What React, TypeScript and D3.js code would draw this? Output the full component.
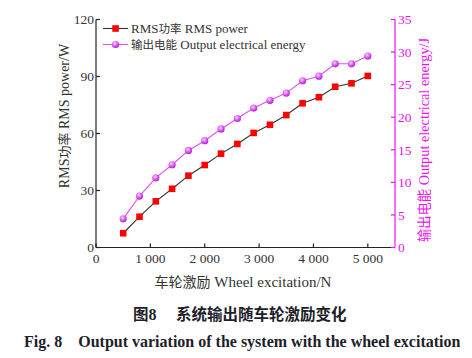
import React from 'react';
import * as d3 from 'd3';

// wheel excitation (N)
const excitation = [500, 800, 1100, 1400, 1700, 2000, 2300, 2600, 2900, 3200, 3500, 3800, 4100, 4400, 4700, 5000];
// RMS power (W), left axis
const power = [7.5, 16.2, 24.3, 30.9, 37.8, 43.4, 49.4, 54.5, 60.3, 64.6, 69.7, 75.9, 79.1, 84.6, 86.4, 90.3];
// output electrical energy (J), right axis
const energy = [4.4, 7.9, 10.7, 12.7, 14.9, 16.4, 18.2, 19.8, 21.4, 22.6, 23.7, 25.6, 26.3, 28.2, 28.2, 29.4];

const xTicks = [0, 1000, 2000, 3000, 4000, 5000];
const leftTicks = [0, 30, 60, 90, 120];
const rightTicks = [0, 5, 10, 15, 20, 25, 30, 35];

const serif = '"Liberation Serif", "Times New Roman", serif';
const cjk = '"Noto Sans CJK SC", "Liberation Serif", serif';
const MAG = '#ee11ee';

const fmtX = (d: number) => (d >= 1000 ? `${Math.floor(d / 1000)} ${String(d % 1000).padStart(3, '0')}` : String(d));

export default function App() {
  const width = 472, height = 358;
  const left = 96, right = 395, top = 19.5, bottom = 247.5;

  const x = d3.scaleLinear().domain([0, 5500]).range([left, right]);
  const yL = d3.scaleLinear().domain([0, 120]).range([bottom, top]);
  const yR = d3.scaleLinear().domain([0, 35]).range([bottom, top]);

  const powerLine = d3.line<number>().x((_, i) => x(excitation[i])).y(d => yL(d));
  const energyLine = d3.line<number>().x((_, i) => x(excitation[i])).y(d => yR(d));

  return (
    <svg width={width} height={height} style={{ position: 'absolute', left: 0, top: 0, background: '#fff' }}>
      <defs>
        <radialGradient id="ball" cx="0.4" cy="0.35" r="0.7">
          <stop offset="0%" stopColor="#fbd0ff" />
          <stop offset="60%" stopColor="#d64cf0" />
          <stop offset="100%" stopColor="#a020c8" />
        </radialGradient>
      </defs>

      {/* axes */}
      <line x1={left} x2={left} y1={top} y2={bottom} stroke="#222" strokeWidth={1.2} />
      <line x1={left} x2={right} y1={bottom} y2={bottom} stroke="#222" strokeWidth={1.2} />
      <line x1={right} x2={right} y1={top} y2={bottom} stroke={MAG} strokeWidth={1.2} />

      {leftTicks.map(t => (
        <g key={'l' + t}>
          <line x1={left} x2={left + 4} y1={yL(t)} y2={yL(t)} stroke="#222" strokeWidth={1.2} />
          <text x={left - 2} y={yL(t)} dy="0.35em" textAnchor="end" fontFamily={serif} fontSize={13.5} fill="#333">{t}</text>
        </g>
      ))}
      {xTicks.map(t => (
        <g key={'x' + t}>
          <line x1={x(t)} x2={x(t)} y1={bottom} y2={bottom - 4} stroke="#222" strokeWidth={1.2} />
          <text x={x(t)} y={bottom + 11} dy="0.35em" textAnchor="middle" fontFamily={serif} fontSize={13.5} fill="#333">{fmtX(t)}</text>
        </g>
      ))}
      {rightTicks.map(t => (
        <g key={'r' + t}>
          <line x1={right} x2={right - 4} y1={yR(t)} y2={yR(t)} stroke={MAG} strokeWidth={1.2} />
          <text x={right + 3} y={yR(t)} dy="0.35em" textAnchor="start" fontFamily={serif} fontSize={13.5} fill={MAG}>{t}</text>
        </g>
      ))}

      {/* axis titles */}
      <text transform="translate(64,116) rotate(-90)" textAnchor="middle" dy="0.35em" fontFamily={serif} fontSize={14} fill="#333">
        <tspan fontFamily={serif}>RMS</tspan><tspan fontFamily={cjk} fontSize={13}>功率</tspan> RMS power/W
      </text>
      <text transform="translate(424,140) rotate(-90)" textAnchor="middle" dy="0.35em" fontFamily={serif} fontSize={14.3} fill={MAG}>
        <tspan fontFamily={cjk} fontSize={13.3}>输出电能</tspan> Output electrical energy/J
      </text>
      <text x={243} y={282} dy="0.35em" textAnchor="middle" fontFamily={serif} fontSize={15} fill="#333">
        <tspan fontFamily={cjk} fontSize={14}>车轮激励</tspan> Wheel excitation/N
      </text>

      {/* series */}
      <path d={powerLine(power) ?? ''} fill="none" stroke="#333" strokeWidth={1.1} />
      <path d={energyLine(energy) ?? ''} fill="none" stroke="#e050f0" strokeWidth={1.1} />
      {power.map((v, i) => (
        <rect key={'p' + i} x={x(excitation[i]) - 3.3} y={yL(v) - 3.3} width={6.6} height={6.6} fill="#ff0000" />
      ))}
      {energy.map((v, i) => (
        <circle key={'e' + i} cx={x(excitation[i])} cy={yR(v)} r={3.6} fill="url(#ball)" />
      ))}

      {/* legend */}
      <line x1={103} x2={128} y1={28.5} y2={28.5} stroke="#333" strokeWidth={1.1} />
      <rect x={112.3} y={25.2} width={6.6} height={6.6} fill="#ff0000" />
      <text x={131} y={28.5} dy="0.35em" fontFamily={serif} fontSize={13} fill="#333">
        RMS<tspan fontFamily={cjk} fontSize={11.5}>功率</tspan> RMS power
      </text>
      <line x1={103} x2={128} y1={44.5} y2={44.5} stroke="#e050f0" strokeWidth={1.1} />
      <circle cx={115.5} cy={44.5} r={3.6} fill="url(#ball)" />
      <text x={131} y={44.5} dy="0.35em" fontFamily={serif} fontSize={13} fill="#333">
        <tspan fontFamily={cjk} fontSize={11.5}>输出电能</tspan> Output electrical energy
      </text>

      {/* caption */}
      <text x={133} y={315} dy="0.35em" textAnchor="start" fontFamily={cjk} fontSize={15.5} fontWeight={700} fill="#1e1e2a">
        图<tspan fontFamily={serif} fontSize={16}>8</tspan>
      </text>
      <text x={176} y={315} dy="0.35em" textAnchor="start" fontFamily={cjk} fontSize={15.5} fontWeight={700} fill="#1e1e2a">
        系统输出随车轮激励变化
      </text>
      <text x={24} y={341} dy="0.35em" textAnchor="start" fontFamily={serif} fontSize={16} fontWeight={700} fill="#1e1e2a">
        Fig. 8{'\u2003'}Output variation of the system with the wheel excitation
      </text>
    </svg>
  );
}
